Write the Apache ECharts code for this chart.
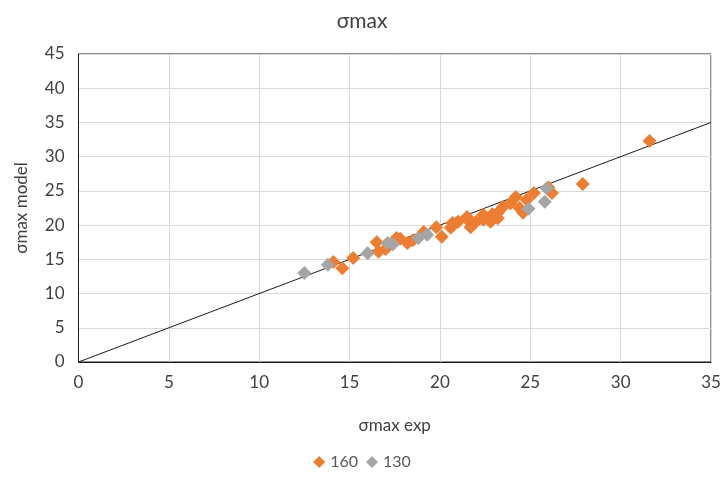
<!DOCTYPE html>
<html><head><meta charset="utf-8">
<script src="https://cdn.jsdelivr.net/npm/echarts@6/dist/echarts.min.js"></script>
<style>html,body{margin:0;padding:0;background:#fff}#c{width:724px;height:477px}</style>
</head><body><div id="c"></div>
<script>
const seriesNames = ['160', '130'];
const s160 = [[14.1,14.6],[14.6,13.7],[15.2,15.2],[16.5,17.5],[16.6,16.1],[17.0,16.5],[17.6,18.1],[17.8,18.0],[18.2,17.4],[18.5,17.8],[19.1,19.0],[19.8,19.7],[20.1,18.3],[20.6,19.6],[20.7,20.3],[21.0,20.5],[21.5,21.2],[21.7,19.7],[21.6,20.6],[22.0,20.5],[22.4,20.8],[22.4,21.5],[22.8,20.5],[23.2,21.8],[22.9,21.6],[23.2,21.0],[23.5,22.7],[23.9,23.2],[24.2,24.1],[24.4,22.5],[24.6,21.8],[24.8,23.7],[25.2,24.7],[26.2,24.7],[26.0,25.5],[27.9,26.0],[31.6,32.3]];
const s130 = [[12.5,13.0],[13.8,14.2],[16.0,15.9],[17.1,17.4],[17.4,17.2],[18.8,18.1],[19.3,18.6],[24.9,22.4],[25.8,23.4],[25.9,25.4]];
const refLine = [[0,0],[35,35]];
const xTicks = {min:0,max:35,interval:5};
const yTicks = {min:0,max:45,interval:5};
const font = 'Lato, "Liberation Sans", sans-serif';
const chart = echarts.init(document.getElementById('c'));
chart.setOption({
  animation:false,
  title:{text:'σmax',left:'center',top:6,textStyle:{fontFamily:font,fontSize:21,fontWeight:'normal',color:'#404040'}},
  grid:{left:78.5,right:13,top:54,bottom:115,show:true,borderColor:'#1a1a1a',borderWidth:1},
  legend:{bottom:2,left:'center',itemWidth:12,itemHeight:12,itemGap:8,textStyle:{fontFamily:font,fontSize:16,color:'#595959'},data:[{name:'160',icon:'diamond'},{name:'130',icon:'diamond'}]},
  xAxis:{type:'value',min:xTicks.min,max:xTicks.max,interval:xTicks.interval,name:'σmax exp',nameLocation:'middle',nameGap:55,
    nameTextStyle:{fontFamily:font,fontSize:17,color:'#404040'},
    axisLine:{show:true,lineStyle:{color:'#1a1a1a'}},axisTick:{show:false},
    axisLabel:{fontFamily:font,fontSize:17,color:'#404040',margin:12},
    splitLine:{show:true,lineStyle:{color:'#d9d9d9'}}},
  yAxis:{type:'value',min:yTicks.min,max:yTicks.max,interval:yTicks.interval,name:'σmax model',nameLocation:'middle',nameGap:48,
    nameTextStyle:{fontFamily:font,fontSize:17,color:'#404040'},
    axisLine:{show:true,lineStyle:{color:'#1a1a1a'}},axisTick:{show:false},
    axisLabel:{fontFamily:font,fontSize:17,color:'#404040',margin:14},
    splitLine:{show:true,lineStyle:{color:'#d9d9d9'}}},
  series:[
    {name:'ref',type:'line',data:refLine,symbol:'none',lineStyle:{color:'#1a1a1a',width:1},silent:true,z:1},
    {name:seriesNames[1],type:'scatter',data:s130,symbol:'diamond',symbolSize:14,itemStyle:{color:'#A5A5A5',opacity:1},z:3},
    {name:seriesNames[0],type:'scatter',data:s160,symbol:'diamond',symbolSize:14,itemStyle:{color:'#ED7D31',opacity:1},z:2}
  ]
});
</script></body></html>
